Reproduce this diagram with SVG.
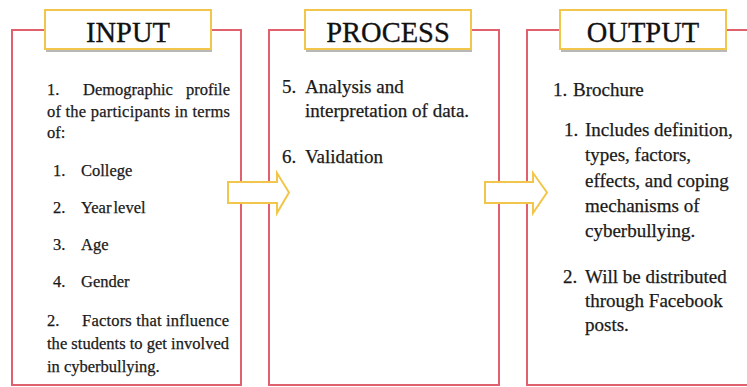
<svg xmlns="http://www.w3.org/2000/svg" width="747" height="387" viewBox="0 0 747 387">
<style>
.frame{fill:#fff;stroke:#E0606E;stroke-width:2}
.tbox{fill:#fff;stroke:#F2C64A;stroke-width:2}
.tshadow{fill:#b8b8b8}
.title{font-family:"Liberation Serif","Times New Roman",serif;font-size:28.5px;fill:#111;stroke:#111;stroke-width:0.3;text-anchor:middle}
.s{font-family:"Liberation Serif","Times New Roman",serif;font-size:16.5px;fill:#1a1a1a;stroke:#1a1a1a;stroke-width:0.25}
.m{font-family:"Liberation Serif","Times New Roman",serif;font-size:19px;fill:#1a1a1a;stroke:#1a1a1a;stroke-width:0.25}
.e{text-anchor:end}
.arrow{fill:#fff;stroke:#F2C64A;stroke-width:2;stroke-linejoin:miter}
</style>
<rect width="747" height="387" fill="#fff"/>
<g id="input">
<rect class="frame" x="12" y="30" width="229" height="355"/>
<rect class="tshadow" x="46" y="12" width="166" height="40"/>
<rect class="tbox" x="45" y="10" width="166" height="39"/>
<text class="title" x="128" y="42">INPUT</text>
<text class="s" x="47" y="95">1.</text>
<text class="s" x="83" y="95">Demographic</text>
<text class="s e" x="230" y="95">profile</text>
<text class="s" x="47" y="117" textLength="183" lengthAdjust="spacing">of the participants in terms</text>
<text class="s" x="47" y="138">of:</text>
<text class="s" x="53" y="176">1.</text>
<text class="s" x="81" y="176">College</text>
<text class="s" x="53" y="213">2.</text>
<text class="s" x="81" y="213" word-spacing="-2">Year level</text>
<text class="s" x="53" y="250">3.</text>
<text class="s" x="81" y="250">Age</text>
<text class="s" x="53" y="287">4.</text>
<text class="s" x="81" y="287">Gender</text>
<text class="s" x="47" y="326">2.</text>
<text class="s" x="82" y="326" textLength="147" lengthAdjust="spacing">Factors that influence</text>
<text class="s" x="47" y="349" textLength="182" lengthAdjust="spacing">the students to get involved</text>
<text class="s" x="47" y="372">in cyberbullying.</text>
</g>
<g id="process">
<rect class="frame" x="269" y="30" width="230" height="355"/>
<rect class="tshadow" x="306" y="12" width="166" height="40"/>
<rect class="tbox" x="305" y="10" width="166" height="39"/>
<text class="title" x="388" y="42">PROCESS</text>
<text class="m" x="282" y="93">5.</text>
<text class="m" x="305" y="93">Analysis and</text>
<text class="m" x="305" y="117">interpretation of data.</text>
<text class="m" x="282" y="163">6.</text>
<text class="m" x="305" y="163">Validation</text>
</g>
<g id="output">
<rect class="frame" x="527" y="30" width="240" height="355"/>
<rect class="tshadow" x="561" y="12" width="166" height="40"/>
<rect class="tbox" x="560" y="10" width="166" height="39"/>
<text class="title" x="643" y="42">OUTPUT</text>
<text class="m" x="553" y="96">1.</text>
<text class="m" x="573" y="96">Brochure</text>
<text class="m" x="564" y="136">1.</text>
<text class="m" x="585" y="136">Includes definition,</text>
<text class="m" x="585" y="161">types, factors,</text>
<text class="m" x="585" y="187">effects, and coping</text>
<text class="m" x="585" y="212">mechanisms of</text>
<text class="m" x="585" y="237">cyberbullying.</text>
<text class="m" x="563" y="283">2.</text>
<text class="m" x="585" y="283">Will be distributed</text>
<text class="m" x="585" y="307">through Facebook</text>
<text class="m" x="585" y="331">posts.</text>
</g>
<g id="connectors">
<polygon class="arrow" points="228,182 277,182 277,173 289,192.5 277,213 277,203 228,203"/>
<polygon class="arrow" points="485,182 533,182 533,173 547,192.5 533,213 533,203 485,203"/>
</g>
</svg>
